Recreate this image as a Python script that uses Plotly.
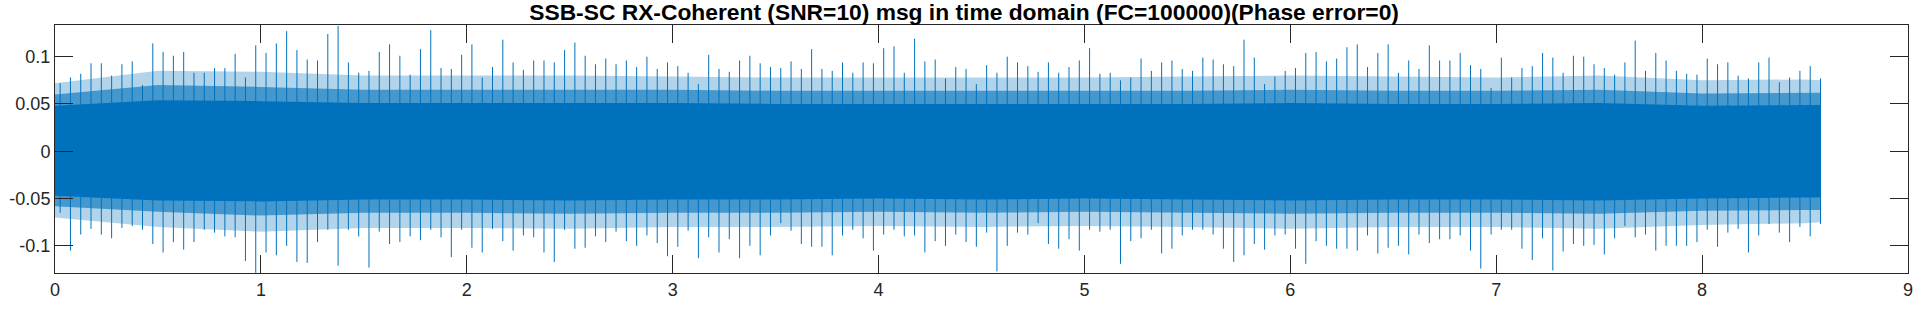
import plotly.graph_objects as go
import numpy as np

# ---- data ----
T_END = 8.576          # last sample time (s)
SEG = 0.05             # width of one envelope segment (s)

# maximum value reached in each 0.05 s segment
upper_peaks = [
    0.072, 0.078, 0.082, 0.093, 0.093, 0.080, 0.092, 0.095, 0.070, 0.114,
    0.105, 0.101, 0.105, 0.083, 0.083, 0.088, 0.088, 0.103, 0.078, 0.112,
    0.104, 0.114, 0.127, 0.107, 0.097, 0.096, 0.124, 0.1325, 0.094, 0.083,
    0.085, 0.105, 0.113, 0.101, 0.081, 0.108, 0.128, 0.088, 0.087, 0.102,
    0.113, 0.078, 0.089, 0.118, 0.094, 0.086, 0.096, 0.096, 0.094, 0.107,
    0.115, 0.101, 0.092, 0.098, 0.092, 0.096, 0.089, 0.100, 0.087, 0.094,
    0.090, 0.083, 0.071, 0.102, 0.087, 0.084, 0.096, 0.101, 0.093, 0.089,
    0.088, 0.095, 0.087, 0.108, 0.087, 0.085, 0.094, 0.083, 0.094, 0.093,
    0.109, 0.111, 0.083, 0.119, 0.095, 0.097, 0.077, 0.089, 0.087, 0.071,
    0.091, 0.083, 0.100, 0.094, 0.090, 0.084, 0.094, 0.083, 0.089, 0.096,
    0.109, 0.082, 0.083, 0.075, 0.078, 0.098, 0.085, 0.094, 0.096, 0.087,
    0.085, 0.099, 0.097, 0.092, 0.090, 0.118, 0.099, 0.071, 0.079, 0.085,
    0.088, 0.104, 0.105, 0.095, 0.098, 0.110, 0.113, 0.089, 0.104, 0.113,
    0.083, 0.096, 0.087, 0.112, 0.096, 0.096, 0.104, 0.091, 0.087, 0.067,
    0.099, 0.078, 0.088, 0.090, 0.104, 0.099, 0.083, 0.101, 0.100, 0.092,
    0.088, 0.081, 0.094, 0.117, 0.085, 0.104, 0.096, 0.085, 0.082, 0.081,
    0.098, 0.092, 0.094, 0.080, 0.077, 0.094, 0.099, 0.073, 0.078, 0.085,
    0.090, 0.077,
]

# minimum value reached in each 0.05 s segment
lower_peaks = [
    -0.065, -0.105, -0.088, -0.082, -0.088, -0.092, -0.081, -0.079, -0.083, -0.098,
    -0.107, -0.096, -0.104, -0.096, -0.083, -0.086, -0.090, -0.091, -0.116, -0.1285,
    -0.107, -0.110, -0.100, -0.117, -0.118, -0.096, -0.083, -0.121, -0.083, -0.090,
    -0.123, -0.085, -0.098, -0.096, -0.090, -0.094, -0.083, -0.091, -0.112, -0.083,
    -0.102, -0.107, -0.082, -0.095, -0.105, -0.089, -0.091, -0.107, -0.117, -0.083,
    -0.103, -0.102, -0.090, -0.096, -0.085, -0.095, -0.100, -0.089, -0.097, -0.111,
    -0.101, -0.084, -0.113, -0.091, -0.107, -0.093, -0.113, -0.100, -0.110, -0.089,
    -0.076, -0.084, -0.098, -0.101, -0.101, -0.110, -0.089, -0.083, -0.092, -0.105,
    -0.088, -0.083, -0.090, -0.089, -0.107, -0.095, -0.100, -0.088, -0.096, -0.101,
    -0.086, -0.127, -0.100, -0.086, -0.088, -0.076, -0.098, -0.103, -0.093, -0.105,
    -0.083, -0.085, -0.083, -0.119, -0.095, -0.092, -0.083, -0.108, -0.103, -0.089,
    -0.083, -0.083, -0.088, -0.103, -0.117, -0.110, -0.098, -0.104, -0.089, -0.088,
    -0.103, -0.119, -0.095, -0.100, -0.103, -0.103, -0.105, -0.089, -0.108, -0.102,
    -0.100, -0.109, -0.088, -0.097, -0.093, -0.093, -0.089, -0.105, -0.124, -0.088,
    -0.083, -0.083, -0.103, -0.115, -0.092, -0.126, -0.106, -0.098, -0.100, -0.099,
    -0.109, -0.092, -0.079, -0.091, -0.088, -0.105, -0.100, -0.100, -0.100, -0.096,
    -0.083, -0.101, -0.086, -0.082, -0.107, -0.089, -0.077, -0.086, -0.096, -0.080,
    -0.090, -0.077,
]

# density contours of the signal envelope (read every 0.5 s)
band_t    = [0.0, 0.5, 1.0, 1.5, 2.0, 2.5, 3.0, 3.5, 4.0, 4.5, 5.0, 5.5, 6.0,
             6.5, 7.0, 7.5, 8.0, 8.5, 8.576]
fringe_hi = [0.072, 0.085, 0.084, 0.080, 0.080, 0.080, 0.079, 0.078, 0.078, 0.078,
             0.078, 0.079, 0.080, 0.079, 0.078, 0.080, 0.075, 0.076, 0.075]
fringe_lo = [-0.070, -0.080, -0.085, -0.081, -0.081, -0.082, -0.080, -0.080, -0.079,
             -0.080, -0.079, -0.080, -0.082, -0.080, -0.080, -0.082, -0.078, -0.076, -0.075]
dense_hi  = [0.060, 0.070, 0.068, 0.065, 0.065, 0.065, 0.065, 0.064, 0.064, 0.064,
             0.064, 0.064, 0.065, 0.064, 0.064, 0.065, 0.061, 0.062, 0.062]
dense_lo  = [-0.058, -0.064, -0.068, -0.065, -0.065, -0.066, -0.065, -0.065, -0.064,
             -0.065, -0.064, -0.065, -0.066, -0.065, -0.065, -0.066, -0.063, -0.062, -0.062]
core_hi   = [0.048, 0.054, 0.053, 0.051, 0.051, 0.051, 0.051, 0.050, 0.050, 0.050,
             0.050, 0.050, 0.051, 0.050, 0.050, 0.051, 0.048, 0.049, 0.049]
core_lo   = [-0.047, -0.052, -0.053, -0.051, -0.051, -0.052, -0.051, -0.051, -0.050,
             -0.051, -0.050, -0.051, -0.052, -0.051, -0.051, -0.052, -0.050, -0.049, -0.049]

x_ticks = [0, 1, 2, 3, 4, 5, 6, 7, 8, 9]
y_ticks = [-0.1, -0.05, 0, 0.05, 0.1]
y_ticktext = ["-0.1", "-0.05", "0", "0.05", "0.1"]
TITLE = "SSB-SC RX-Coherent (SNR=10) msg in time domain (FC=100000)(Phase error=0)"

# ---- figure ----
BLUE = "#0072BD"
AX = "#262626"

seg_t = np.minimum(np.arange(len(upper_peaks)) * SEG + SEG / 2, T_END)

fig = go.Figure()


def band(hi, lo, color):
    fig.add_trace(go.Scatter(
        x=list(band_t) + list(band_t[::-1]),
        y=list(hi) + list(lo[::-1]),
        fill="toself", fillcolor=color,
        line=dict(width=0), mode="lines", hoverinfo="skip", showlegend=False))


band(fringe_hi, fringe_lo, "rgba(0,114,189,0.30)")
band(dense_hi, dense_lo, "rgba(0,114,189,0.62)")
band(core_hi, core_lo, BLUE)

# spikes: each segment's extreme excursion
sx, sy = [], []
for t, lo, hi in zip(seg_t, lower_peaks, upper_peaks):
    sx += [t, t, None]
    sy += [lo, hi, None]
fig.add_trace(go.Scatter(x=sx, y=sy, mode="lines",
                         line=dict(color=BLUE, width=1),
                         hoverinfo="skip", showlegend=False))

axis_common = dict(
    showline=True, linecolor=AX, linewidth=1, mirror="ticks",
    ticks="inside", ticklen=18, tickwidth=1, tickcolor=AX,
    showgrid=False, zeroline=False,
    tickfont=dict(family="Liberation Sans, Arial, sans-serif", size=18, color=AX),
)

fig.update_layout(
    width=1922, height=309,
    margin=dict(l=55, r=9, t=25, b=31),
    paper_bgcolor="white", plot_bgcolor="white",
    title=dict(text="<b>" + TITLE + "</b>", x=0.5016, xanchor="center",
               y=1 - 12 / 309, yanchor="middle", yref="container",
               font=dict(family="Liberation Sans, Arial, sans-serif", size=22.8, color="#000000")),
    xaxis=dict(range=[0, 9], tickvals=x_ticks, **axis_common),
    yaxis=dict(range=[-0.1287, 0.1335], tickvals=y_ticks, ticktext=y_ticktext,
               **axis_common),
)

fig.write_html("out.html")
